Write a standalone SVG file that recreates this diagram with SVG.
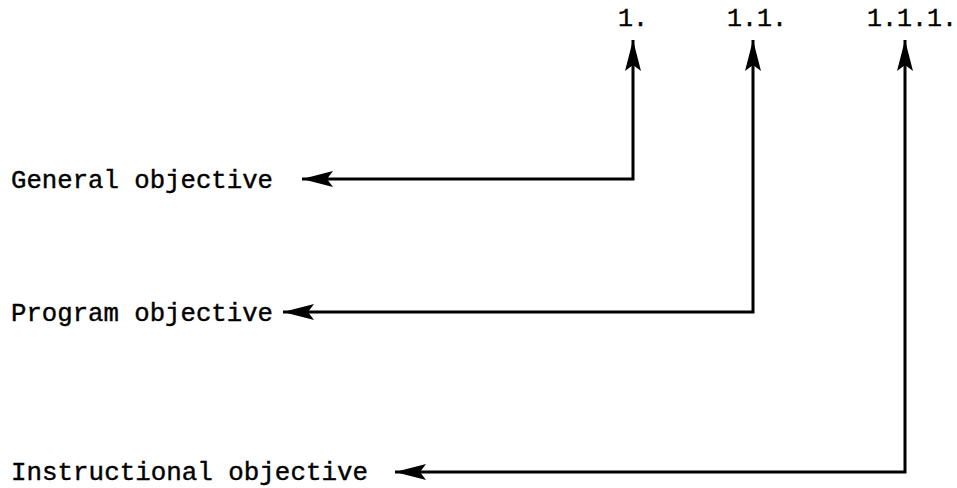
<svg xmlns="http://www.w3.org/2000/svg" width="957" height="488" viewBox="0 0 957 488">
<style>
.t{font-family:"Liberation Mono","Courier New",monospace;font-size:25px;fill:#000;stroke:#000;stroke-width:0.4;}
.c{fill:none;stroke:#000;stroke-width:3;}
</style>
<defs>
<marker id="ah" markerUnits="userSpaceOnUse" markerWidth="32" markerHeight="18" viewBox="0 0 32 18" refX="31" refY="9" orient="auto-start-reverse">
<path d="M0,1 L31,9 L0,17 L6,9 z" fill="#000"/>
</marker>
</defs>
<rect width="957" height="488" fill="#fff"/>
<g id="label-1"><text class="t" x="618" y="26">1.</text></g>
<g id="label-1-1"><text class="t" x="727" y="26">1.1.</text></g>
<g id="label-1-1-1"><text class="t" x="867" y="26">1.1.1.</text></g>
<g id="general"><text class="t" x="11" y="188" textLength="262" lengthAdjust="spacingAndGlyphs">General objective</text></g>
<g id="program"><text class="t" x="11" y="321" textLength="262" lengthAdjust="spacingAndGlyphs">Program objective</text></g>
<g id="instructional"><text class="t" x="11" y="480" textLength="357" lengthAdjust="spacingAndGlyphs">Instructional objective</text></g>
<g id="connectors">
<path class="c" d="M302,179 H633 V40" marker-start="url(#ah)" marker-end="url(#ah)"/>
<path class="c" d="M283,312 H753 V40" marker-start="url(#ah)" marker-end="url(#ah)"/>
<path class="c" d="M395,472 H905 V40" marker-start="url(#ah)" marker-end="url(#ah)"/>
</g>
</svg>
